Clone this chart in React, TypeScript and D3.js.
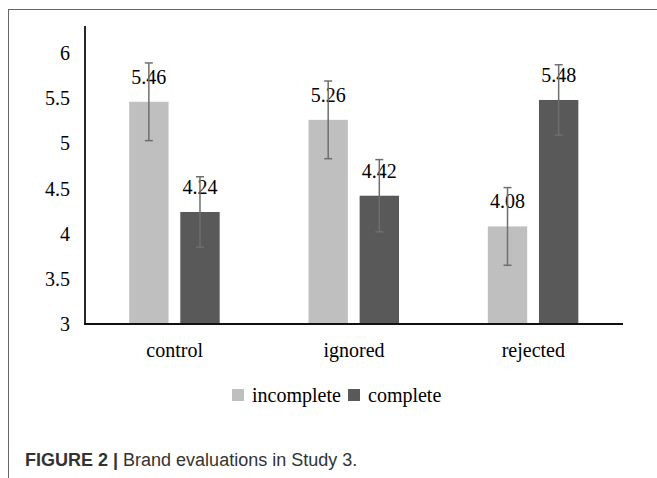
import React from "react";
import * as d3 from "d3";

const categories = ["control", "ignored", "rejected"];
const seriesNames = ["incomplete", "complete"];
const incompleteValues = [5.46, 5.26, 4.08];
const completeValues = [4.24, 4.42, 5.48];
const incompleteErrors = [0.43, 0.43, 0.43];
const completeErrors = [0.39, 0.4, 0.39];
const yTicks = [3, 3.5, 4, 4.5, 5, 5.5, 6];
const seriesColors = ["#bfbfbf", "#595959"];

const W = 657;
const H = 478;

export default function App() {
  const y = d3.scaleLinear().domain([3, 6]).range([324, 53]);
  const x0 = d3.scaleBand<string>().domain(categories).range([85, 623]).paddingInner(0).paddingOuter(0);
  const bw0 = x0.bandwidth();
  const x1 = d3
    .scaleBand<string>()
    .domain(seriesNames)
    .range([bw0 / 2 - 45.5, bw0 / 2 + 45])
    .paddingInner(0.23)
    .paddingOuter(0);

  const data = categories.map((c, i) => ({
    cat: c,
    vals: [
      { s: seriesNames[0], v: incompleteValues[i], e: incompleteErrors[i], color: seriesColors[0] },
      { s: seriesNames[1], v: completeValues[i], e: completeErrors[i], color: seriesColors[1] },
    ],
  }));

  const serif = "'Liberation Serif', 'Times New Roman', serif";
  const sans = "'Liberation Sans', Arial, sans-serif";
  const fs = 20;

  return (
    <svg
      width={W}
      height={H}
      style={{ position: "absolute", left: 0, top: 0, background: "#fff" }}
    >
      <rect x={0} y={0} width={W} height={H} fill="#fff" />
      {/* frame */}
      <line x1={8} y1={9.5} x2={W} y2={9.5} stroke="#666" strokeWidth={1} />
      <line x1={8.5} y1={9} x2={8.5} y2={H} stroke="#666" strokeWidth={1} />

      {/* y tick labels */}
      {yTicks.map((t) => (
        <text
          key={t}
          x={70}
          y={y(t)}
          dy="0.35em"
          textAnchor="end"
          fontFamily={serif}
          fontSize={fs}
          fill="#000"
        >
          {String(t)}
        </text>
      ))}

      {/* bars */}
      {data.map((d) => (
        <g key={d.cat} transform={`translate(${x0(d.cat)},0)`}>
          {d.vals.map((b) => {
            const bx = x1(b.s)!;
            const bw = x1.bandwidth();
            return (
              <rect key={b.s} x={bx} y={y(b.v)} width={bw} height={y(3) - y(b.v)} fill={b.color} />
            );
          })}
        </g>
      ))}

      {/* axes */}
      <line x1={85} y1={26} x2={85} y2={324} stroke="#111" strokeWidth={1.8} />
      <line x1={84} y1={324} x2={623} y2={324} stroke="#111" strokeWidth={1.8} />

      {/* error bars and labels */}
      {data.map((d) => (
        <g key={d.cat + "e"} transform={`translate(${x0(d.cat)},0)`}>
          {d.vals.map((b) => {
            const bx = x1(b.s)!;
            const bw = x1.bandwidth();
            const cx = bx + bw / 2;
            const top = y(b.v + b.e);
            const bot = y(b.v - b.e);
            return (
              <g key={b.s}>
                <text
                  x={cx}
                  y={y(b.v) - 18}
                  textAnchor="middle"
                  fontFamily={serif}
                  fontSize={fs}
                  fill="#000"
                >
                  {b.v.toFixed(2)}
                </text>
                <line x1={cx} y1={top} x2={cx} y2={bot} stroke="#6e6e6e" strokeWidth={1.5} />
                <line x1={cx - 4} y1={top} x2={cx + 4} y2={top} stroke="#6e6e6e" strokeWidth={1.5} />
                <line x1={cx - 4} y1={bot} x2={cx + 4} y2={bot} stroke="#6e6e6e" strokeWidth={1.5} />
              </g>
            );
          })}
        </g>
      ))}

      {/* category labels */}
      {categories.map((c) => (
        <text
          key={c}
          x={x0(c)! + bw0 / 2}
          y={357}
          textAnchor="middle"
          fontFamily={serif}
          fontSize={fs}
          fill="#000"
        >
          {c}
        </text>
      ))}

      {/* legend */}
      <rect x={232} y={389} width={12} height={12} fill={seriesColors[0]} />
      <text x={252} y={402} fontFamily={serif} fontSize={fs} fill="#000">
        {seriesNames[0]}
      </text>
      <rect x={348} y={389} width={12} height={12} fill={seriesColors[1]} />
      <text x={368} y={402} fontFamily={serif} fontSize={fs} fill="#000">
        {seriesNames[1]}
      </text>

      {/* caption */}
      <text x={25} y={466} fontFamily={sans} fontSize={18} fill="#333">
        <tspan fontWeight="bold">FIGURE 2 |</tspan>
        <tspan> Brand evaluations in Study 3.</tspan>
      </text>
    </svg>
  );
}
